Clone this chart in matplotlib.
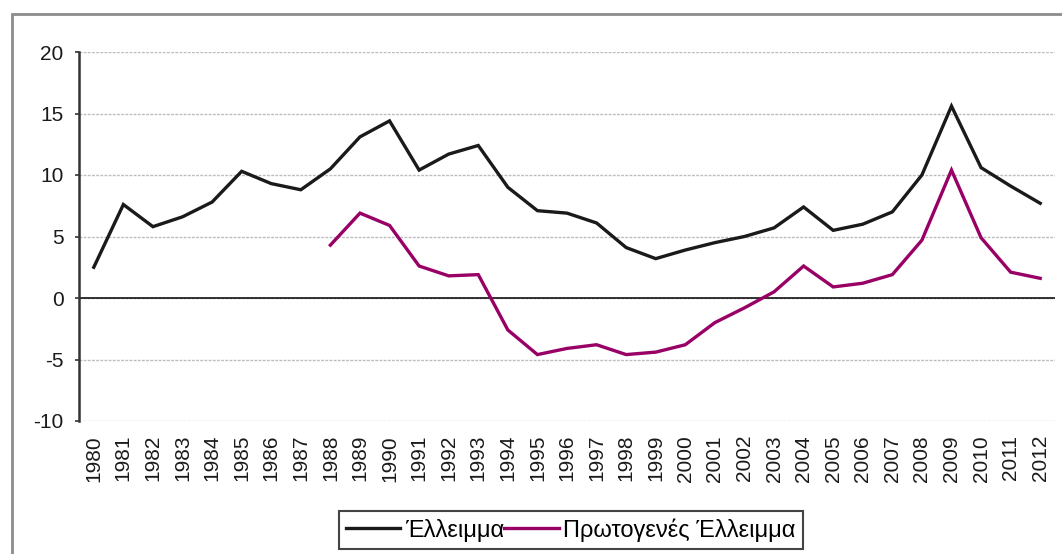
import numpy as np
import matplotlib
matplotlib.use("Agg")
import matplotlib.pyplot as plt
from matplotlib.patches import Rectangle


years = [1980, 1981, 1982, 1983, 1984, 1985, 1986, 1987, 1988, 1989,
         1990, 1991, 1992, 1993, 1994, 1995, 1996, 1997, 1998, 1999,
         2000, 2001, 2002, 2003, 2004, 2005, 2006, 2007, 2008, 2009,
         2010, 2011, 2012]

deficit = [2.5, 7.6, 5.8, 6.6, 7.8, 10.3, 9.3, 8.8, 10.5, 13.1,
           14.4, 10.4, 11.7, 12.4, 9.0, 7.1, 6.9, 6.1, 4.1, 3.2,
           3.9, 4.5, 5.0, 5.7, 7.4, 5.5, 6.0, 7.0, 10.0, 15.6,
           10.6, 9.1, 7.7]

primary = [np.nan] * 8 + [4.3, 6.9,
           5.9, 2.6, 1.8, 1.9, -2.6, -4.6, -4.1, -3.8, -4.6, -4.4,
           -3.8, -2.0, -0.8, 0.5, 2.6, 0.9, 1.2, 1.9, 4.7, 10.4,
           4.9, 2.1, 1.6]

y_ticks = [-10, -5, 0, 5, 10, 15, 20]

labels = ["Έλλειμμα", "Πρωτογενές Έλλειμμα"]


plt.rcParams['font.family'] = ['Liberation Sans', 'DejaVu Sans']
plt.rcParams['axes.unicode_minus'] = False

fig = plt.figure(figsize=(10.62, 5.54), dpi=100)
ax = fig.add_axes([79 / 1062, 1 - 421 / 554, (1055 - 79) / 1062, (421 - 52) / 554])

x = np.arange(len(years))

ax.plot(x, deficit, color='#1a1a1a', lw=2.4, label=labels[0], solid_joinstyle='miter')
ax.plot(x, primary, color='#990066', lw=2.4, label=labels[1], solid_joinstyle='miter')

ax.axhline(0, color='black', lw=1.1, zorder=1)

ax.set_xlim(-0.5, len(years) - 0.5)
ax.set_ylim(-10, 20)
ax.set_yticks(y_ticks)
ax.set_xticks(x)
ax.set_xticklabels([str(y) for y in years], rotation=90)

ax.yaxis.grid(True, color='#bdbdbd', linestyle=(0, (2, 1)), lw=1)
ax.set_axisbelow(True)

for s in ['top', 'right', 'bottom']:
    ax.spines[s].set_visible(False)
ax.spines['left'].set_color('#333333')
ax.spines['left'].set_linewidth(1.8)

ax.tick_params(axis='y', labelsize=15, length=3, width=1.2, color='#333333', pad=8,
               labelcolor='#1a1a1a')
ax.tick_params(axis='x', labelsize=15, length=0, pad=10, labelcolor='#1a1a1a')

leg = fig.legend(loc='upper left', bbox_to_anchor=(339 / 1062, 1 - 511 / 554),
                 borderaxespad=0, ncol=2, fontsize=17, handlelength=2.3,
                 handletextpad=0.2, columnspacing=0.0, borderpad=0.3,
                 fancybox=False, edgecolor='#444444', framealpha=1)
leg.get_frame().set_linewidth(1.5)

# outer chart frame, partly outside the picture
fig.patches.append(Rectangle((12 / 1062, -0.1), 1.1, 1 - 14 / 554 + 0.1,
                             transform=fig.transFigure, fill=False,
                             edgecolor='#8c8c8c', lw=2))

fig.savefig("out.png", dpi=100)
